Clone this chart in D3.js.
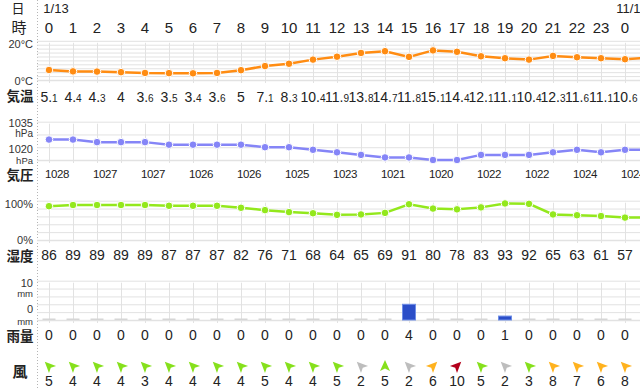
<!DOCTYPE html>
<html>
<head>
<meta charset="utf-8">
<script src="https://cdn.jsdelivr.net/npm/d3@7"></script>
<style>
  body { margin: 0; background: #fff; }
  svg { display: block; font-family: "Liberation Sans", "Noto Sans CJK JP", sans-serif; }
  .jp { font-family: "Noto Sans CJK JP", sans-serif; }
  .grid line { stroke: #e2e2e2; }
  .grid .domain { display: none; }
</style>
</head>
<body>
<div class="container"></div>
<script>
const hours = [0, 1, 2, 3, 4, 5, 6, 7, 8, 9, 10, 11, 12, 13, 14, 15, 16, 17, 18, 19, 20, 21, 22, 23, 0];
const dates = [{ hour: 0, label: '1/13' }, { hour: 24, label: '11/14' }];
const temps = [5.1, 4.4, 4.3, 4, 3.6, 3.5, 3.4, 3.6, 5, 7.1, 8.3, 10.4, 11.9, 13.8, 14.7, 11.8, 15.1, 14.4, 12.1, 11.1, 10.4, 12.3, 11.6, 11.1, 10.6, 11.3];
const pressure = [1028, 1028, 1027, 1027, 1027, 1026, 1026, 1026, 1026, 1025, 1025, 1024, 1023, 1022, 1021, 1021, 1020, 1020, 1022, 1022, 1022, 1023, 1024, 1023, 1024, 1024];
const humidity = [86, 89, 89, 89, 89, 87, 87, 87, 82, 76, 71, 68, 64, 65, 69, 91, 80, 78, 83, 93, 92, 65, 63, 61, 57, 57];
const rain = [0, 0, 0, 0, 0, 0, 0, 0, 0, 0, 0, 0, 0, 0, 0, 4, 0, 0, 0, 1, 0, 0, 0, 0, 0];
const wind = [5, 4, 4, 4, 3, 4, 4, 4, 4, 5, 4, 4, 5, 2, 5, 2, 6, 10, 5, 2, 3, 8, 7, 6, 8];
const windDir = ['北西', '北西', '北西', '北西', '北西', '北西', '北西', '北西', '北西', '北西', '北西', '北西', '北西', '北西', '北', '北西', '北東', '北東', '北西', '北西', '北西', '北西', '北西', '北西', '北西'];

const width = 640;
const height = 390;
const gridLeft = 37;
const labelX = 20;
const axisX = 33;

const compass = { '北': 0, '北北東': 22.5, '北東': 45, '東北東': 67.5, '東': 90, '南': 180, '西': 270, '西北西': 292.5, '北西': 315, '北北西': 337.5 };

const x = d3.scaleLinear().domain([0, 25]).range([49, 649]);

const yTemp = d3.scaleLinear().domain([0, 20]).range([80, 40.8]);
const yPres = d3.scaleLinear().domain([1020, 1035]).range([160, 121.7]);
const yHum = d3.scaleLinear().domain([0, 100]).range([240, 200.7]);
const yRain = d3.scaleLinear().domain([0, 10]).range([320, 280.7]);

const svg = d3.select('.container')
  .append('svg')
  .attr('width', width)
  .attr('height', height);

// left label column separator
svg.append('line')
  .attr('x1', gridLeft + 0.5).attr('x2', gridLeft + 0.5)
  .attr('y1', 0).attr('y2', height)
  .attr('stroke', '#b5b5b5')
  .attr('stroke-dasharray', '1,2');

// header
svg.append('text').attr('class', 'jp')
  .attr('x', 18).attr('y', 8).attr('dy', '0.35em')
  .attr('text-anchor', 'middle').attr('font-size', 13).attr('fill', '#222')
  .text('日');
svg.append('text').attr('class', 'jp')
  .attr('x', 19).attr('y', 28).attr('dy', '0.35em')
  .attr('text-anchor', 'middle').attr('font-size', 15).attr('fill', '#222')
  .text('時');

svg.append('g').selectAll('text')
  .data(dates)
  .join('text')
  .attr('x', (d) => x(d.hour) + 7)
  .attr('y', 8)
  .attr('dy', '0.35em')
  .attr('text-anchor', 'middle')
  .attr('font-size', 13)
  .attr('fill', '#222')
  .text((d) => d.label);

svg.append('g').selectAll('text')
  .data(hours)
  .join('text')
  .attr('x', (d, i) => x(i))
  .attr('y', 28)
  .attr('dy', '0.35em')
  .attr('text-anchor', 'middle')
  .attr('font-size', 15)
  .attr('fill', '#222')
  .text((d) => d);

// panel grids
function panelGrid(y, ticks) {
  const [bottom, top] = y.range();
  svg.append('g')
    .attr('class', 'grid')
    .attr('transform', `translate(0, ${bottom + 3})`)
    .call(d3.axisBottom(x).tickValues(d3.range(25)).tickSize(-(bottom - top + 1)).tickFormat(''));
  const g = svg.append('g')
    .attr('class', 'grid')
    .attr('transform', `translate(${gridLeft}, 0)`)
    .call(d3.axisLeft(y).tickValues(ticks).tickSize(-(width - gridLeft)).tickFormat(''));
  g.selectAll('.tick line')
    .attr('stroke', (d) => (d === ticks[0] ? '#a8a8a8' : '#e0e0e0'))
    .attr('stroke-width', (d) => (d === ticks[0] ? 1.3 : 1));
}

panelGrid(yTemp, [0, 2, 4, 6, 8, 10, 12, 14, 16, 18, 20]);
panelGrid(yPres, [1020, 1025, 1030, 1035]);
panelGrid(yHum, [0, 20, 40, 60, 80, 100]);
panelGrid(yRain, [0, 2, 4, 6, 8, 10]);

// axis labels
function axisLabel(text, yPos, size) {
  svg.append('text')
    .attr('x', axisX).attr('y', yPos).attr('dy', '0.35em')
    .attr('text-anchor', 'end').attr('font-size', size).attr('fill', '#333')
    .text(text);
}
axisLabel('20°C', yTemp(20) + 3, 11);
axisLabel('0°C', yTemp(0) + 1, 11);
axisLabel('1035', yPres(1035) + 1.5, 11);
axisLabel('hPa', yPres(1035) + 11.5, 10);
axisLabel('1020', yPres(1020) - 10.5, 11);
axisLabel('hPa', yPres(1020) + 0.5, 9.5);
axisLabel('100%', yHum(100) + 3.3, 11);
axisLabel('0%', yHum(0), 11);
axisLabel('10', yRain(10) + 2.6, 11);
axisLabel('mm', yRain(10) + 13.3, 9.5);
axisLabel('0', yRain(0) - 10.5, 11);
axisLabel('mm', yRain(0) + 1.3, 9.5);

// row labels
const rowLabels = [
  { text: '気温', y: 96.7 },
  { text: '気圧', y: 175.5 },
  { text: '湿度', y: 256 },
  { text: '雨量', y: 336 },
  { text: '風', y: 371.7 },
];
svg.append('g').selectAll('text')
  .data(rowLabels)
  .join('text')
  .attr('class', 'jp')
  .attr('x', labelX).attr('y', (d) => d.y).attr('dy', '0.35em')
  .attr('text-anchor', 'middle')
  .attr('font-size', (d) => (d.text.length === 1 ? 15 : 13.5))
  .attr('font-weight', 700)
  .attr('fill', '#222')
  .text((d) => d.text);

// line series
function lineSeries(values, y, color) {
  const line = d3.line().x((d, i) => x(i)).y((d) => y(d));
  svg.append('path')
    .datum(values)
    .attr('d', line)
    .attr('fill', 'none')
    .attr('stroke', color)
    .attr('stroke-width', 2.5);
  svg.append('g').selectAll('circle')
    .data(values)
    .join('circle')
    .attr('cx', (d, i) => x(i))
    .attr('cy', (d) => y(d))
    .attr('r', 3.8)
    .attr('fill', color)
    .attr('stroke', '#fff')
    .attr('stroke-width', 1);
}

lineSeries(temps, yTemp, '#ff8c12');
lineSeries(pressure, yPres, '#8585f7');
lineSeries(humidity, yHum, '#93e81c');

// temperature values
const tempText = svg.append('g').selectAll('text')
  .data(temps.slice(0, 25))
  .join('text')
  .attr('x', (d, i) => x(i))
  .attr('y', 96)
  .attr('dy', '0.35em')
  .attr('text-anchor', 'middle')
  .attr('fill', '#222');
tempText.append('tspan')
  .attr('font-size', 14)
  .text((d) => (Number.isInteger(d) ? `${d}` : `${Math.floor(d)}.`));
tempText.append('tspan')
  .attr('font-size', 10)
  .text((d) => (Number.isInteger(d) ? '' : `${Math.round((d % 1) * 10)}`));

// pressure values, every two hours
svg.append('g').selectAll('text')
  .data(pressure.slice(0, 25).map((v, i) => ({ v, i })).filter((d) => d.i % 2 === 0))
  .join('text')
  .attr('x', (d) => x(d.i) + 8)
  .attr('y', 174)
  .attr('dy', '0.35em')
  .attr('text-anchor', 'middle')
  .attr('font-size', 11.5)
  .attr('letter-spacing', -0.4)
  .attr('fill', '#222')
  .text((d) => d.v);

// humidity values
svg.append('g').selectAll('text')
  .data(humidity.slice(0, 25))
  .join('text')
  .attr('x', (d, i) => x(i))
  .attr('y', 255.5)
  .attr('dy', '0.35em')
  .attr('text-anchor', 'middle')
  .attr('font-size', 14)
  .attr('fill', '#222')
  .text((d) => d);

// rain bars
svg.append('g').selectAll('rect')
  .data(rain)
  .join('rect')
  .attr('x', (d, i) => x(i) - 6.5)
  .attr('width', 13)
  .attr('y', (d) => (d > 0 ? yRain(d) : yRain(0) - 1.5))
  .attr('height', (d) => (d > 0 ? yRain(0) - yRain(d) : 1.5))
  .attr('fill', (d) => (d > 0 ? '#2b4ec8' : '#d6d6d6'))
  .attr('stroke', (d) => (d > 0 ? '#6f8ee6' : 'none'))
  .attr('stroke-width', 1);

svg.append('g').selectAll('text')
  .data(rain)
  .join('text')
  .attr('x', (d, i) => x(i))
  .attr('y', 335.5)
  .attr('dy', '0.35em')
  .attr('text-anchor', 'middle')
  .attr('font-size', 14)
  .attr('fill', '#222')
  .text((d) => d);

// wind
const windColor = (v) => {
  if (v <= 2) return '#bdbdbd';
  if (v <= 5) return '#86e01c';
  if (v <= 9) return '#ffb21e';
  return '#b3001b';
};

svg.append('g').selectAll('path')
  .data(wind)
  .join('path')
  .attr('d', 'M0,-6 L5,5 L0,2.5 L-5,5 Z')
  .attr('transform', (d, i) => `translate(${x(i)}, 366) rotate(${compass[windDir[i]]})`)
  .attr('fill', (d) => windColor(d));

svg.append('g').selectAll('text')
  .data(wind)
  .join('text')
  .attr('x', (d, i) => x(i))
  .attr('y', 381)
  .attr('dy', '0.35em')
  .attr('text-anchor', 'middle')
  .attr('font-size', 14)
  .attr('fill', '#222')
  .text((d) => d);
</script>
</body>
</html>
